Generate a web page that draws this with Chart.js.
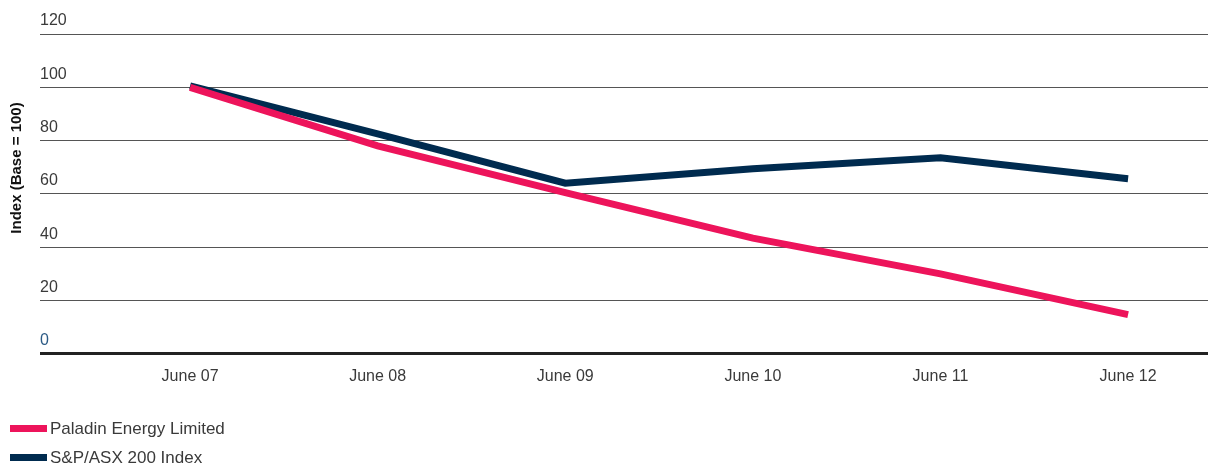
<!DOCTYPE html>
<html>
<head>
<meta charset="utf-8">
<script src="https://cdn.jsdelivr.net/npm/chart.js@4/dist/chart.umd.min.js"></script>
<style>
  html, body { margin: 0; padding: 0; background: #fff; overflow: hidden; }
  #wrap { position: relative; width: 1208px; height: 466px; }
  #legend { position: absolute; left: 10px; top: 414px; font-family: "Liberation Sans", Arial, sans-serif; font-size: 17px; color: #3a3a3a; }
  .item { display: flex; align-items: center; height: 29px; }
  .swatch { width: 37px; height: 7px; margin-right: 3px; }
</style>
</head>
<body>
<div id="wrap">
  <canvas id="myChart" width="1208" height="466"></canvas>
  <div id="legend"></div>
</div>
<script>
// Datos
const years = ["June 07", "June 08", "June 09", "June 10", "June 11", "June 12"];
const paladin = [100, 78, 60.5, 43.4, 30, 14.7];
const asx200 = [100.5, 82.5, 64, 69.4, 73.6, 65.7];
const yTicks = [0, 20, 40, 60, 80, 100, 120];

const seriesNames = ["Paladin Energy Limited", "S&P/ASX 200 Index"];
const seriesColors = ["#ED145B", "#002B4F"];

const tickFont = { family: "'Liberation Sans', Arial, sans-serif", size: 16 };

// Título del eje Y dibujado a mano (centrado donde está en la imagen)
const yTitlePlugin = {
  id: "yTitle",
  afterDraw(chart) {
    const c = chart.ctx;
    c.save();
    c.translate(17, 168);
    c.rotate(-Math.PI / 2);
    c.font = "bold 15px 'Liberation Sans', Arial, sans-serif";
    c.fillStyle = "#111";
    c.textAlign = "center";
    c.textBaseline = "middle";
    c.fillText("Index (Base = 100)", 0, 0);
    c.restore();
  },
};

const toPoints = (arr) => arr.map((y, i) => ({ x: i, y: y }));

const ctx = document.getElementById("myChart");
const myChart = new Chart(ctx, {
  type: "line",
  data: {
    datasets: [
      {
        label: seriesNames[0],
        data: toPoints(paladin),
        borderColor: seriesColors[0],
        backgroundColor: seriesColors[0],
        borderWidth: 7,
      },
      {
        label: seriesNames[1],
        data: toPoints(asx200),
        borderColor: seriesColors[1],
        backgroundColor: seriesColors[1],
        borderWidth: 7,
      },
    ],
  },
  options: {
    responsive: false,
    animation: false,
    layout: { padding: { left: 40, right: 0, top: 34, bottom: 75 } },
    elements: {
      point: { radius: 0 },
      line: { tension: 0, borderCapStyle: "butt", borderJoinStyle: "miter" },
    },
    plugins: {
      legend: { display: false },
      tooltip: { enabled: false },
    },
    scales: {
      x: {
        type: "linear",
        min: -0.8,
        max: 5.426,
        grid: { display: false },
        border: { display: false },
        afterBuildTicks: (scale) => {
          scale.ticks = years.map((_, i) => ({ value: i }));
        },
        ticks: {
          autoSkip: false,
          maxRotation: 0,
          padding: 5,
          color: "#3a3a3a",
          font: tickFont,
          callback: (v) => years[v],
        },
      },
      y: {
        min: 0,
        max: 120,
        afterBuildTicks: (scale) => {
          scale.ticks = yTicks.map((v) => ({ value: v }));
        },
        border: { display: false },
        grid: {
          drawTicks: false,
          color: (c) => (c.tick && c.tick.value === 0 ? "#222" : "#555"),
          lineWidth: (c) => (c.tick && c.tick.value === 0 ? 3 : 1),
        },
        ticks: {
          mirror: true,
          padding: 0,
          labelOffset: -13,
          color: (c) => (c.tick && c.tick.value === 0 ? "#2B5A85" : "#3a3a3a"),
          font: tickFont,
        },
      },
    },
  },
  plugins: [yTitlePlugin],
});

// Leyenda en HTML, apilada como en el original
const legend = document.getElementById("legend");
seriesNames.forEach((name, i) => {
  const row = document.createElement("div");
  row.className = "item";
  const sw = document.createElement("span");
  sw.className = "swatch";
  sw.style.background = seriesColors[i];
  const txt = document.createElement("span");
  txt.textContent = name;
  row.appendChild(sw);
  row.appendChild(txt);
  legend.appendChild(row);
});
</script>
</body>
</html>
